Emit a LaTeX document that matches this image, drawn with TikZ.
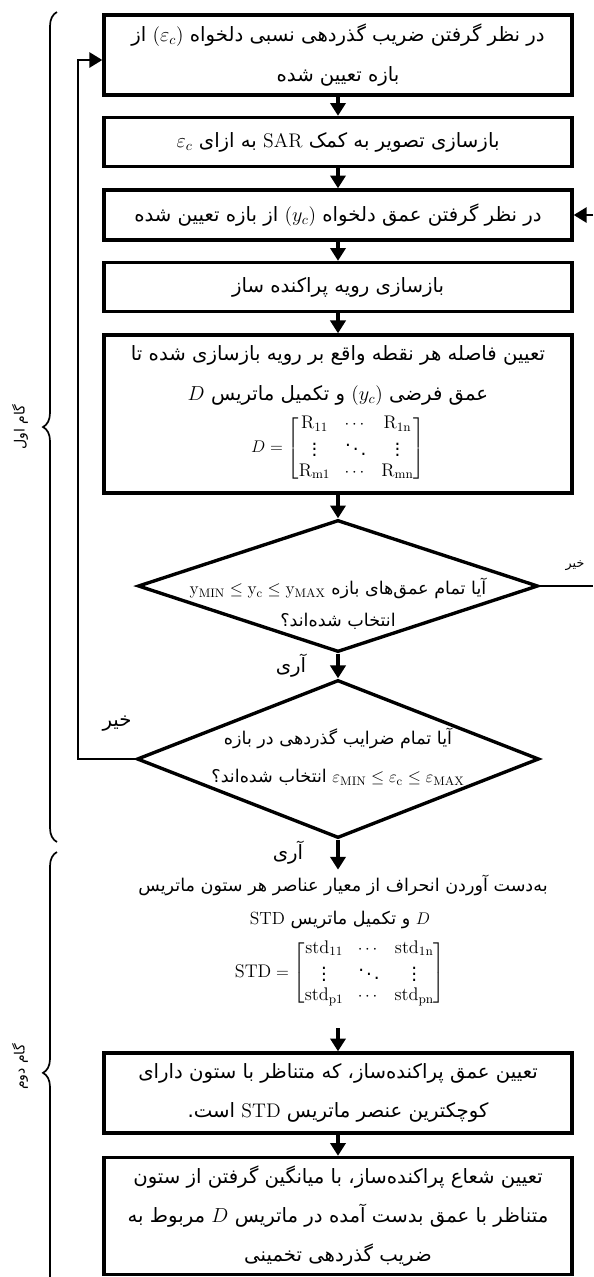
\documentclass[tikz,border=0pt]{standalone}
\usepackage{amsmath}
\usepackage{fontspec}
\usepackage{tikz}
\usetikzlibrary{shapes.geometric,arrows.meta,positioning,decorations.pathreplacing}
\TeXXeTstate=1
\newfontfamily\fa[Script=Arabic]{DejaVu Sans}
\newcommand{\rl}[1]{\beginR #1\endR}
\newcommand{\lat}[1]{\beginL{\rmfamily #1}\endL{}}
\newcommand{\tightmat}[1]{{\fontsize{13}{14}\selectfont #1}}

\begin{document}
\begin{tikzpicture}[x=0.025cm, y=-0.025cm,
  flow/.style={line width=2.2pt, -{Triangle[length=3.2mm,width=3.8mm]}},
  loopline/.style={line width=1.3pt},
  stepbox/.style={draw, line width=2.4pt, minimum width=11.7cm, align=center, inner sep=2pt, font=\fa\fontsize{14}{28}\selectfont},
  testbox/.style={draw, diamond, line width=2.4pt, inner sep=0pt},
  note/.style={font=\fa\fontsize{12.5}{23}\selectfont, align=center},
  bracestyle/.style={line width=1.2pt, decorate, decoration={brace, amplitude=0.35cm}},
]
  \useasboundingbox (0,0) rectangle (593,1277);
  \clip (0,0) rectangle (593,1277);
  % stage one
  \node[stepbox, minimum height=2cm] (b1) at (338,55) {\rl{در نظر گرفتن ضریب گذردهی نسبی دلخواه \lat{($\varepsilon_c$)} از}\\\rl{بازه تعیین شده}};
  \node[stepbox, minimum height=1.225cm] (b2) at (338,142) {\rl{بازسازی تصویر به کمک \lat{SAR} به ازای $\varepsilon_c$}};
  \node[stepbox, minimum height=1.25cm] (b3) at (338,215) {\rl{در نظر گرفتن عمق دلخواه \lat{($y_c$)} از بازه تعیین شده}};
  \node[stepbox, minimum height=1.225cm] (b4) at (338,287) {\rl{بازسازی رویه پراکنده ساز}};
  \node[stepbox, minimum height=3.95cm] (b5) at (338,414) {\rl{تعیین فاصله هر نقطه واقع بر رویه بازسازی شده تا}\\\rl{عمق فرضی \lat{($y_c$)} و تکمیل ماتریس $D$}\\[6pt]\tightmat{$D=\begin{bmatrix}\mathrm{R}_{11} & \cdots & \mathrm{R}_{\mathrm{1n}}\\ \vdots & \ddots & \vdots\\ \mathrm{R}_{\mathrm{m1}} & \cdots & \mathrm{R}_{\mathrm{mn}}\end{bmatrix}$}};
  \node[testbox, minimum width=10cm, minimum height=3.3cm] (d1) at (338,586) {};
  \node[note] (d1t) at (338,604) {\rl{آیا تمام عمق‌های بازه $\mathrm{y}_{\mathrm{MIN}}\le\mathrm{y}_{\mathrm{c}}\le\mathrm{y}_{\mathrm{MAX}}$}\\\rl{انتخاب شده‌اند؟}};
  \node[testbox, minimum width=10.05cm, minimum height=3.95cm] (d2) at (338,759) {};
  \node[note, font=\fa\fontsize{12.5}{27}\selectfont] (d2t) at (338,757) {\rl{آیا تمام ضرایب گذردهی در بازه}\\\rl{$\varepsilon_{\mathrm{MIN}}\le\varepsilon_{\mathrm{c}}\le\varepsilon_{\mathrm{MAX}}$ انتخاب شده‌اند؟}};
  % stage two
  \node[note] (std1) at (343,885) {\rl{به‌دست آوردن انحراف از معیار عناصر هر ستون ماتریس}};
  \node[note] (std2) at (340,920) {\rl{$D$ و تکمیل ماتریس \lat{STD}}};
  \node[note] (stdm) at (340,973) {\tightmat{$\mathrm{STD}=\begin{bmatrix}\mathrm{std}_{11} & \cdots & \mathrm{std}_{\mathrm{1n}}\\ \vdots & \ddots & \vdots\\ \mathrm{std}_{\mathrm{p1}} & \cdots & \mathrm{std}_{\mathrm{pn}}\end{bmatrix}$}};
  \node[stepbox, minimum height=2cm] (b6) at (338,1093) {\rl{تعیین عمق پراکنده‌ساز، که متناظر با ستون دارای}\\\rl{کوچکترین عنصر ماتریس \lat{STD} است.}};
  \node[stepbox, minimum height=2.925cm] (b7) at (338,1216) {\rl{تعیین شعاع پراکنده‌ساز، با میانگین گرفتن از ستون}\\\rl{متناظر با عمق بدست آمده در ماتریس $D$ مربوط به}\\\rl{ضریب گذردهی تخمینی}};
  % yes / no labels
  \node[font=\fa\fontsize{9}{9}\selectfont] (no1) at (575,566) {\rl{خیر}};
  \node[stepbox, draw=none] (yes1) at (291,666) {\rl{آری}};
  \node[stepbox, draw=none] (no2) at (117,724) {\rl{خیر}};
  \node[stepbox, draw=none] (yes2) at (288,853) {\rl{آری}};
  % connectors
  \draw[flow] (b1) -- (b2);
  \draw[flow] (b2) -- (b3);
  \draw[flow] (b3) -- (b4);
  \draw[flow] (b4) -- (b5);
  \draw[flow] (b5) -- (d1.north);
  \draw[flow] (d1.south) -- (d2.north);
  \draw[flow] (d2.south) -- (d2.south |- std1.north);
  \coordinate (s2) at (338,1028);
  \draw[flow] (s2) -- (b6.north);
  \draw[flow] (b6) -- (b7);
  \coordinate (lc) at (78,60);
  \draw[loopline, -{Triangle[length=3.2mm,width=3.8mm]}] (d2.west) -| (lc) -- (lc -| b1.west);
  \coordinate (re1) at (593,586);
  \coordinate (re2) at (593,215);
  \draw[loopline] (d1.east) -- (re1);
  \draw[loopline, -{Triangle[length=3.2mm,width=3.8mm]}] (re2) -- (b3.east);
  % braces
  \draw[bracestyle] (57,842) -- (57,12);
  \node[font=\fa\fontsize{10}{10}\selectfont, rotate=90] (g1) at (20,427) {\rl{گام اول}};
  \draw[bracestyle, decoration={aspect=0.507}] (57,1300) -- (57,852);
  \node[font=\fa\fontsize{10}{10}\selectfont, rotate=90] (g2) at (20,1067) {\rl{گام دوم}};
\end{tikzpicture}
\end{document}
